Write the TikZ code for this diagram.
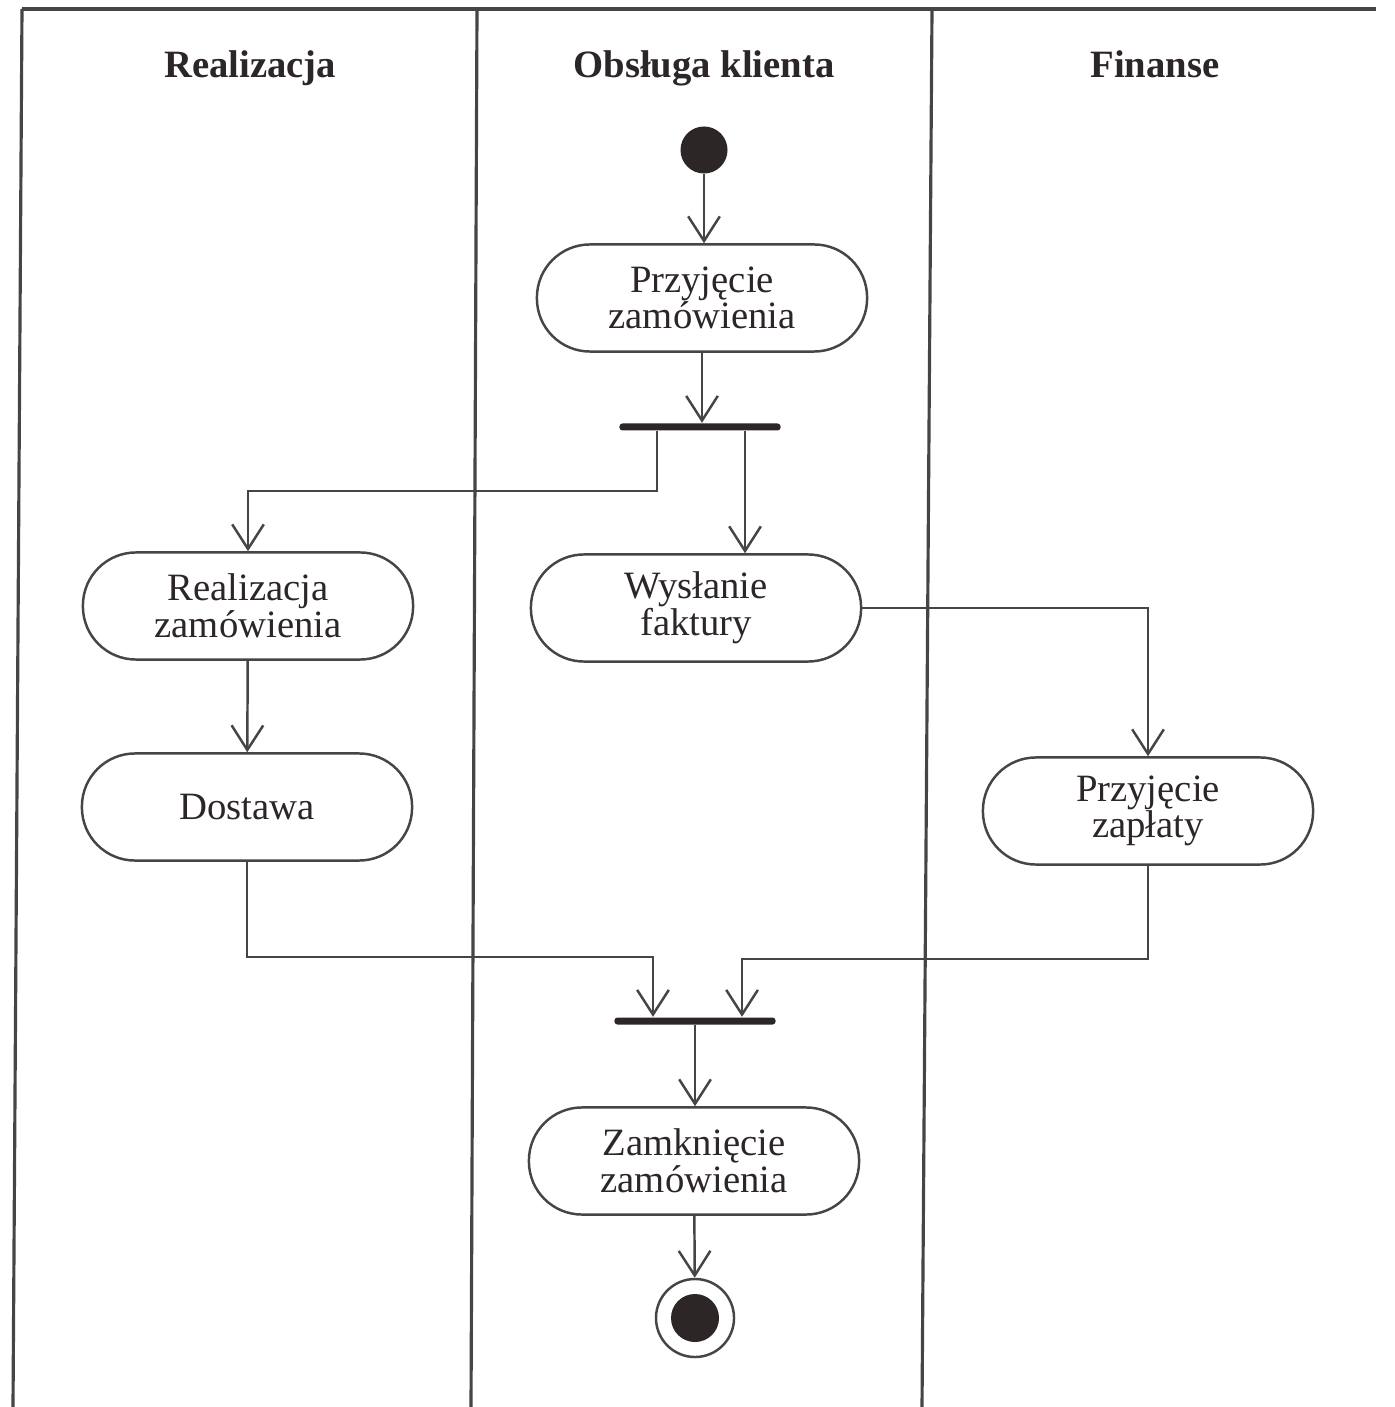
\documentclass[tikz,border=0pt]{standalone}
\usepackage{fontspec}
\setmainfont{Liberation Serif}
\usetikzlibrary{arrows.meta}
\definecolor{ink}{RGB}{45, 38, 38}
\definecolor{wire}{RGB}{70, 68, 68}

\begin{document}
\begin{tikzpicture}[
   x=0.01cm, y=-0.01cm,
   actrec/.style={rectangle, rounded corners=0.53cm, draw=wire, fill=white, line width=0.7,
                  text=ink, align=center, inner sep=0, minimum width=3.3cm,
                  minimum height=1.07cm, font=\fontsize{11}{10.4}\selectfont},
   syncbar/.style={rectangle, fill=ink, rounded corners=0.03cm, inner sep=0,
                   minimum width=1.61cm, minimum height=0.07cm},
   startcirc/.style={circle, fill=ink, inner sep=0, minimum size=0.47cm},
   endcirc/.style={circle, draw=wire, fill=white, line width=0.7, inner sep=0,
                   minimum size=0.78cm},
   lanehead/.style={anchor=base, text=ink, font=\bfseries\fontsize{11}{13}\selectfont},
   flow/.style={->, >={Straight Barb[length=7pt, width=9pt]}, color=wire, line width=0.7}
  ]

  \useasboundingbox (0, 0) rectangle (1395, 1407);

  % Swimlanes
  \draw[wire, line width=1.2] (22, 9) -- (1376, 9);
  \draw[wire, line width=0.9] (22, 9) -- (13, 1407);
  \draw[wire, line width=0.9] (477, 9) -- (471, 1407);
  \draw[wire, line width=0.9] (932, 9) -- (922, 1407);

  \node (hreal) at (250, 78) [lanehead] {Realizacja};
  \node (hobs) at (704, 78) [lanehead] {Obsługa klienta};
  \node (hfin) at (1155, 78) [lanehead] {Finanse};

  % Activities
  \node (start) at (704, 150) [startcirc] {};
  \node (przyj) at (702, 298) [actrec] {Przyjęcie\\zamówienia};
  \node (fork) at (700, 427) [syncbar] {};

  \node (realiz) at (248, 606) [actrec] {Realizacja\\zamówienia};
  \node (faktura) at (696, 608) [actrec] {Wysłanie\\faktury};
  \node (dostawa) at (247, 807) [actrec] {Dostawa};
  \node (zaplata) at (1148, 811) [actrec] {Przyjęcie\\zapłaty};

  \node (join) at (695, 1021) [syncbar] {};
  \node (zamkn) at (694, 1161) [actrec] {Zamknięcie\\zamówienia};
  \node (end) at (695, 1318) [endcirc] {};
  \fill[ink] (end.center) circle (0.24cm);

  % Flows
  \draw[flow] (start) -- (start |- przyj.north);
  \draw[flow] (przyj.south) -- (przyj.south |- fork.north);
  \draw[flow] ([xshift=-0.43cm]fork.south) -- ++(0, 60) -| (realiz.north);
  \draw[flow] ([xshift=0.45cm]fork.south) -- ([xshift=0.45cm]fork.south |- faktura.north);
  \draw[flow] (faktura.east) -| (zaplata.north);
  \draw[flow] (realiz) -- (dostawa);
  \draw[flow] (dostawa.south) -- ++(0, 95) -| ([xshift=-0.42cm]join.north);
  \draw[flow] (zaplata.south) -- ++(0, 93) -| ([xshift=0.47cm]join.north);
  \draw[flow] (join.south) -- (join.south |- zamkn.north);
  \draw[flow] (zamkn) -- (end);

\end{tikzpicture}
\end{document}
